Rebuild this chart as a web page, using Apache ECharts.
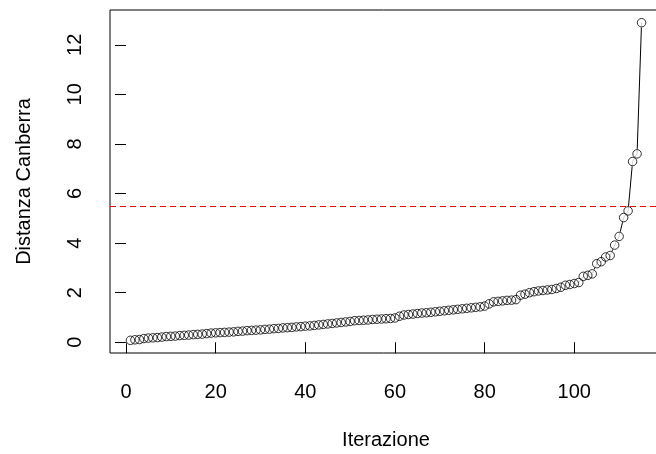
<!DOCTYPE html>
<html>
<head>
<meta charset="utf-8">
<script src="https://cdn.jsdelivr.net/npm/echarts@6/dist/echarts.min.js"></script>
<style>
html,body{margin:0;padding:0;background:#fff;}
#c{width:656px;height:454px;}
</style>
</head>
<body>
<div id="c"></div>
<script>
// Sorted Canberra distances, one per iteration (1..n)
const distances = [
  0.08, 0.10, 0.11, 0.15, 0.17, 0.18, 0.19, 0.21, 0.23, 0.24,
  0.25, 0.27, 0.28, 0.29, 0.31, 0.32, 0.33, 0.35, 0.37, 0.38,
  0.39, 0.40, 0.41, 0.42, 0.44, 0.45, 0.47, 0.48, 0.49, 0.50,
  0.52, 0.53, 0.55, 0.56, 0.58, 0.59, 0.60, 0.62, 0.63, 0.65,
  0.66, 0.68, 0.70, 0.72, 0.74, 0.76, 0.78, 0.80, 0.82, 0.84,
  0.87, 0.88, 0.89, 0.90, 0.92, 0.93, 0.94, 0.95, 0.96, 0.98,
  1.05, 1.10, 1.12, 1.14, 1.16, 1.18, 1.19, 1.21, 1.23, 1.25,
  1.27, 1.29, 1.31, 1.33, 1.35, 1.37, 1.39, 1.41, 1.43, 1.46,
  1.55, 1.63, 1.65, 1.67, 1.69, 1.70, 1.72, 1.90, 1.94, 2.00,
  2.04, 2.07, 2.09, 2.11, 2.13, 2.17, 2.22, 2.30, 2.33, 2.37,
  2.41, 2.66, 2.70, 2.76, 3.17, 3.25, 3.44, 3.50, 3.92, 4.27,
  5.03, 5.30, 7.29, 7.60, 12.89
];
const xTicks = [0, 20, 40, 60, 80, 100];
const yTicks = [0, 2, 4, 6, 8, 10, 12];
const threshold = 5.5;
const xTitle = 'Iterazione';
const yTitle = 'Distanza Canberra';

const points = distances.map((v, i) => [i + 1, v]);
const n = distances.length;
const lo = Math.min(...distances), hi = Math.max(...distances);
// R-style 4% axis extension
const xMin = 1 - 0.04 * (n - 1), xMax = n + 0.04 * (n - 1);
const yMin = lo - 0.04 * (hi - lo), yMax = hi + 0.04 * (hi - lo);

const FONT = 'Arial, "Liberation Sans", sans-serif';
const chart = echarts.init(document.getElementById('c'), null, {renderer: 'canvas'});
chart.setOption({
  animation: false,
  backgroundColor: '#ffffff',
  grid: {left: 110, top: 10, width: 552, bottom: 101, show: true, borderColor: '#000', borderWidth: 1,
         backgroundColor: 'transparent', containLabel: false, outerBoundsMode: 'none'},
  xAxis: {
    type: 'value', min: xMin, max: xMax,
    axisLine: {show: false},
    splitLine: {show: false},
    axisTick: {show: true, customValues: xTicks, length: 11, inside: false, lineStyle: {color: '#000', width: 1}},
    axisLabel: {customValues: xTicks, margin: 29, color: '#000', fontSize: 20, fontFamily: FONT},
    name: xTitle, nameLocation: 'middle', nameGap: 77,
    nameTextStyle: {color: '#000', fontSize: 20, fontFamily: FONT}
  },
  yAxis: {
    type: 'value', min: yMin, max: yMax,
    axisLine: {show: false},
    splitLine: {show: false},
    axisTick: {show: true, customValues: yTicks, length: 11, inside: false, lineStyle: {color: '#000', width: 1}},
    axisLabel: {customValues: yTicks, rotate: 90, margin: 25, color: '#000', fontSize: 20, fontFamily: FONT},
    name: yTitle, nameLocation: 'middle', nameGap: 76, nameRotate: 90,
    nameTextStyle: {color: '#000', fontSize: 20, fontFamily: FONT}
  },
  series: [
    {
      type: 'line', data: points, symbol: 'none', z: 2,
      lineStyle: {color: '#000', width: 1},
      markLine: {
        silent: true, symbol: 'none', label: {show: false},
        lineStyle: {color: '#ff0000', type: [6, 4], width: 1},
        data: [{yAxis: threshold}]
      }
    },
    {
      type: 'scatter', data: points, symbol: 'circle', symbolSize: 10, z: 3,
      itemStyle: {color: '#fff', borderWidth: 0}
    },
    {
      type: 'scatter', data: points, symbol: 'circle', symbolSize: 8.5, z: 4,
      itemStyle: {color: 'rgba(0,0,0,0)', borderColor: '#000', borderWidth: 1}
    }
  ]
});
</script>
</body>
</html>
